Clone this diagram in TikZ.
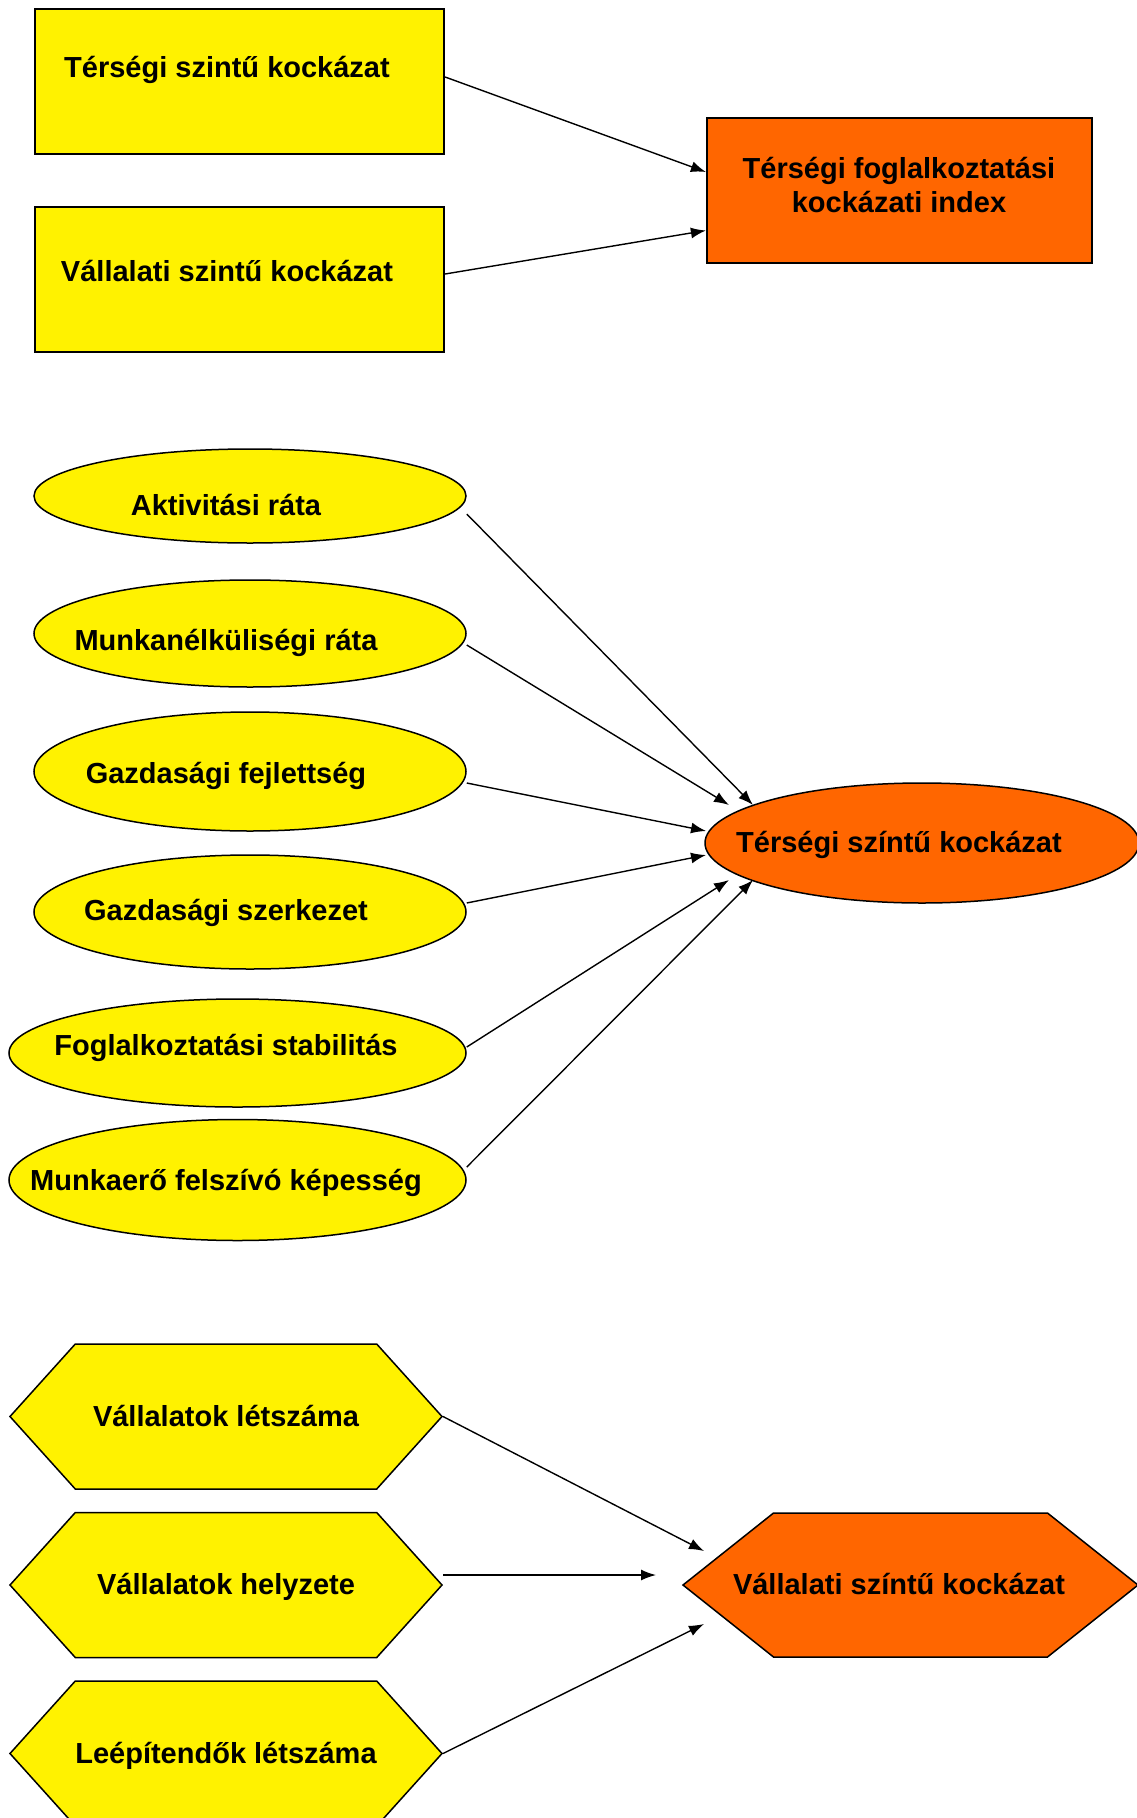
\documentclass[tikz,border=0pt]{standalone}
\usepackage{fontspec}
\setmainfont{Liberation Sans}
\usetikzlibrary{shapes.geometric,shapes.symbols,arrows.meta}

\definecolor{narancs}{HTML}{FF6600}
\tikzset{
  sarga/.style={fill=yellow,draw=black,line width=1.5pt,inner sep=0pt},
  narancs/.style={fill=narancs,draw=black,line width=1.5pt,inner sep=0pt},
  doboz/.style={rectangle,line width=2.2pt},
  hatszog/.style={signal,signal to=west and east},
  felirat/.style={font=\bfseries\fontsize{29}{34}\selectfont,anchor=base,align=center,inner sep=0pt},
  nyil/.style={-{Latex[length=15pt,width=11pt]},line width=1.4pt}
}

\begin{document}
\begin{tikzpicture}[x=1pt,y=-1pt]
            \useasboundingbox (0,0) rectangle (1136,1818);
            %上面的三个方框
            \node[sarga,doboz,minimum width=409pt,minimum height=145pt] (tersegi) at (239.5,81.5) {};
            \node[sarga,doboz,minimum width=409pt,minimum height=145pt] (vallalati) at (239.5,279.5) {};
            \node[narancs,doboz,minimum width=385pt,minimum height=145pt] (index) at (899.5,190.5) {};
            \node[felirat] (tersegi-t) at (227,77) {Térségi szintű kockázat};
            \node[felirat] (vallalati-t) at (227,281) {Vállalati szintű kockázat};
            \node[felirat] (index-t) at (899,212) {Térségi foglalkoztatási\\kockázati index};
            \draw[nyil] ([yshift=4.5pt]tersegi.east) -- ([yshift=18.5pt]index.west);
            \draw[nyil] ([yshift=5.5pt]vallalati.east) -- ([yshift=-40pt]index.west);
            %中间的椭圆
            \node[sarga,ellipse,minimum width=432pt,minimum height=94pt] (aktiv) at (250,496) {};
            \node[sarga,ellipse,minimum width=432pt,minimum height=107pt] (munkan) at (250,633.5) {};
            \node[sarga,ellipse,minimum width=432pt,minimum height=119pt] (fejl) at (250,771.5) {};
            \node[sarga,ellipse,minimum width=432pt,minimum height=114pt] (szerk) at (250,912) {};
            \node[sarga,ellipse,minimum width=457pt,minimum height=108pt] (stab) at (237.5,1053) {};
            \node[sarga,ellipse,minimum width=457pt,minimum height=121pt] (felsziv) at (237.5,1180) {};
            \node[narancs,ellipse,minimum width=434pt,minimum height=120pt] (terseg) at (922,843) {};
            \node[felirat] (aktiv-t) at (226,515) {Aktivitási ráta};
            \node[felirat] (munkan-t) at (226,650) {Munkanélküliségi ráta};
            \node[felirat] (fejl-t) at (226,783) {Gazdasági fejlettség};
            \node[felirat] (szerk-t) at (226,920) {Gazdasági szerkezet};
            \node[felirat] (stab-t) at (226,1055) {Foglalkoztatási stabilitás};
            \node[felirat] (felsziv-t) at (226,1190) {Munkaerő felszívó képesség};
            \node[felirat] (terseg-t) at (899,852) {Térségi színtű kockázat};
            %椭圆之间的箭头
            \draw[nyil] ([yshift=-18pt]aktiv.east) -- ([xshift=-169pt,yshift=38pt]terseg.center);
            \draw[nyil] ([yshift=-11.5pt]munkan.east) -- ([xshift=-193pt,yshift=38pt]terseg.center);
            \draw[nyil] ([yshift=-11.5pt]fejl.east) -- ([xshift=-216pt,yshift=12pt]terseg.center);
            \draw[nyil] ([yshift=9pt]szerk.east) -- ([xshift=-216pt,yshift=-12pt]terseg.center);
            \draw[nyil] ([yshift=6pt]stab.east) -- ([xshift=-193pt,yshift=-37pt]terseg.center);
            \draw[nyil] ([yshift=13pt]felsziv.east) -- ([xshift=-169pt,yshift=-37pt]terseg.center);
            %下面的六边形
            \node[sarga,hatszog,signal pointer angle=96,minimum width=432pt,minimum height=145pt] (letszam) at (226,1416.5) {};
            \node[sarga,hatszog,signal pointer angle=96,minimum width=432pt,minimum height=145pt] (helyzet) at (226,1585) {};
            \node[sarga,hatszog,signal pointer angle=96,minimum width=432pt,minimum height=145pt] (leep) at (226,1753.5) {};
            \node[narancs,hatszog,signal pointer angle=77,minimum width=455pt,minimum height=144pt] (vallhex) at (910.5,1585) {};
            \node[felirat] (letszam-t) at (226,1426) {Vállalatok létszáma};
            \node[felirat] (helyzet-t) at (226,1594) {Vállalatok helyzete};
            \node[felirat] (leep-t) at (226,1763) {Leépítendők létszáma};
            \node[felirat] (vallhex-t) at (899,1594) {Vállalati színtű kockázat};
            \draw[nyil] (letszam.east) -- ([xshift=-206.5pt,yshift=34pt]vallhex.center);
            \draw[nyil] ([yshift=10pt]helyzet.east) -- ([xshift=-254.5pt,yshift=10pt]vallhex.center);
            \draw[nyil] (leep.east) -- ([xshift=-206.5pt,yshift=-39pt]vallhex.center);
\end{tikzpicture}
\end{document}
